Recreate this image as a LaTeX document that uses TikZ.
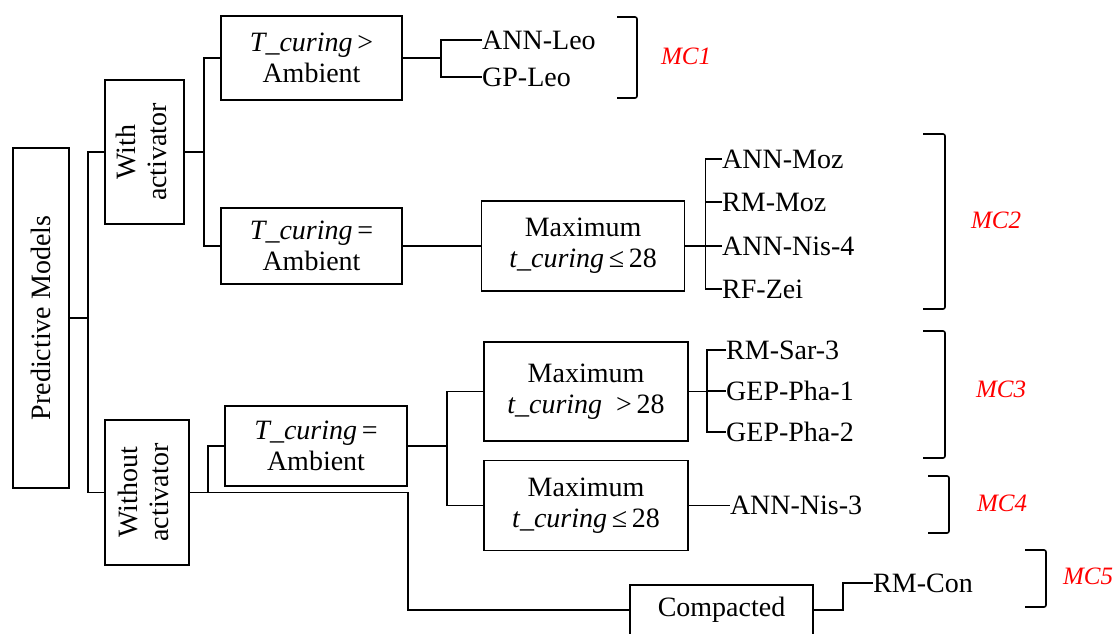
\documentclass[tikz,border=0pt]{standalone}
\usepackage{fontspec}
\setmainfont{Liberation Serif}
\usepackage{graphicx}
\usepackage{xcolor}
\usepackage{tikz}
\usetikzlibrary{positioning,calc}

\begin{document}
\begin{tikzpicture}[x=1pt, y=-1pt, node distance=20pt,
    box/.style={draw, rectangle, line width=1.6pt, inner sep=0pt, align=center, font=\fontsize{28}{31}\selectfont},
    leaf/.style={anchor=west, inner sep=0pt, font=\fontsize{28}{31}\selectfont},
    mclab/.style={text=red, font=\fontsize{25}{28}\selectfont\itshape},
    link/.style={line width=1.5pt},
    bracket/.style={line width=1.6pt, rounded corners=2pt}]
    \useasboundingbox (0,0) rectangle (1118,633);

    \node (pm) [box, minimum width=56pt, minimum height=340pt] at (41,318) {\rotatebox{90}{Predictive Models}};
    \node (wa) [box, minimum width=79pt, minimum height=144pt] at (144.5,152) {\rotatebox{90}{\begin{tabular}{@{}c@{}}With\\activator\end{tabular}}};
    \node (wo) [box, minimum width=84pt, minimum height=145pt] at (147,492.5) {\rotatebox{90}{\begin{tabular}{@{}c@{}}Without\\activator\end{tabular}}};

    \node (tg) [box, minimum width=181pt, minimum height=84pt] at (311.5,58) {\textit{T\_curing}\,>\\Ambient};
    \node (te) [box, minimum width=181pt, minimum height=76pt] at (311.5,246) {\textit{T\_curing}\,=\\Ambient};
    \node (mx1) [box, minimum width=203pt, minimum height=90pt, right=78pt of te] {Maximum\\\textit{t\_curing}\,≤\,28};

    \node (te2) [box, minimum width=182pt, minimum height=80pt] at (316,446) {\textit{T\_curing}\,=\\Ambient};
    \node (mx2) [box, minimum width=204pt, minimum height=99pt] at (586,391.5) {Maximum\\\textit{t\_curing}\ \ >\,28};
    \node (mx3) [box, minimum width=204pt, minimum height=90pt, below=18pt of mx2] {Maximum\\\textit{t\_curing}\,≤\,28};
    \node (cp) [box, minimum width=183pt, minimum height=50pt] at (721.5,610) {Compacted};

    \node (leoA) [leaf] at (482,40) {ANN-Leo};
    \node (leoB) [leaf] at (482,77) {GP-Leo};
    \node (mozA) [leaf] at (722,159) {ANN-Moz};
    \node (mozB) [leaf] at (722,202) {RM-Moz};
    \node (mozC) [leaf] at (722,246) {ANN-Nis-4};
    \node (mozD) [leaf] at (722,289) {RF-Zei};
    \node (sarA) [leaf] at (726,350) {RM-Sar-3};
    \node (phaA) [leaf] at (726,391) {GEP-Pha-1};
    \node (phaB) [leaf] at (726,432) {GEP-Pha-2};
    \node (nis3) [leaf, right=41pt of mx3] {ANN-Nis-3};
    \node (rmc) [leaf] at (873,583) {RM-Con};

    \node (mc1) [mclab] at (686,56) {MC1};
    \node (mc2) [mclab] at (996,220) {MC2};
    \node (mc3) [mclab] at (1001,389) {MC3};
    \node (mc4) [mclab] at (1002,503) {MC4};
    \node (mc5) [mclab] at (1088,576) {MC5};

    \draw[bracket] (617,17) -- (637,17) -- (637,98) -- (617,98);
    \draw[bracket] (923,134) -- (945,134) -- (945,309) -- (923,309);
    \draw[bracket] (923,331) -- (945,331) -- (945,458) -- (923,458);
    \draw[bracket] (928,476) -- (949,476) -- (949,533) -- (928,533);
    \draw[bracket] (1025,550) -- (1046,550) -- (1046,607) -- (1025,607);

    \draw[link] (pm.east) -- ++(18,0) coordinate (j0) |- (wa.west);
    \draw[link] (j0) |- (wo.west);
    \draw[link] (wa.east) -- ++(19,0) coordinate (j1) |- (tg.west);
    \draw[link] (j1) |- (te.west);
    \draw[link] (tg.east) -- ++(38,0) coordinate (j2) |- (leoA.west);
    \draw[link] (j2) |- (leoB.west);
    \draw[link] (te) -- (mx1);
    \draw[link] (mx1.east) -- ++(20,0) coordinate (j3);
    \foreach \n in {mozA,mozB,mozC,mozD} \draw[link] (j3) |- (\n.west);

    \draw[link] (wo.east) -- ++(18,0) coordinate (j4) |- (te2.west);
    \draw[link] (wo.east) -- (wo.east -| te2.east) |- (cp.west);
    \draw[link] (te2.east) -- ++(39,0) coordinate (j5) |- (mx2.west);
    \draw[link] (j5) |- (mx3.west);
    \draw[link] (mx2.east) -- ++(18,0) coordinate (j6);
    \foreach \n in {sarA,phaA,phaB} \draw[link] (j6) |- (\n.west);
    \draw[link] (mx3) -- (nis3);
    \draw[link] (cp.east) -- ++(29,0) |- (rmc.west);
\end{tikzpicture}
\end{document}
